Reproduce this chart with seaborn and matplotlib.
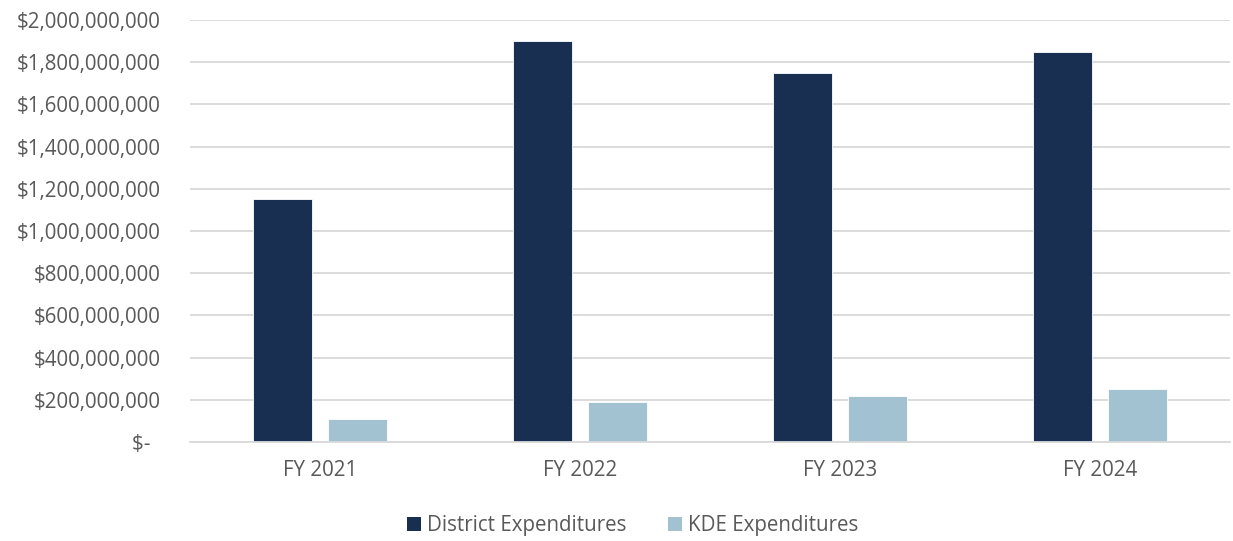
import matplotlib
matplotlib.use("Agg")
import matplotlib.pyplot as plt
import matplotlib.ticker as mticker
from matplotlib.patches import Patch
import seaborn as sns
import pandas as pd

# Expenditure totals by fiscal year
years = ["FY 2021", "FY 2022", "FY 2023", "FY 2024"]
district_exp = [1_150_000_000, 1_900_000_000, 1_750_000_000, 1_850_000_000]
kde_exp = [110_000_000, 190_000_000, 220_000_000, 250_000_000]
series_names = ["District Expenditures", "KDE Expenditures"]

df = pd.DataFrame({
    "year": years * 2,
    "amount": district_exp + kde_exp,
    "series": [series_names[0]] * len(years) + [series_names[1]] * len(years),
})

sns.set_theme(style="white")
plt.rcParams["font.family"] = ["Open Sans", "DejaVu Sans"]

text_color = "#595959"
grid_color = "#d9d9d9"
palette = {series_names[0]: "#182f51", series_names[1]: "#a2c2d2"}
font_size = 14.8

fig = plt.figure(figsize=(12.33, 5.41), dpi=100)
ax = fig.add_axes([0.154, 0.183, 0.8436, 0.78])

sns.barplot(data=df, x="year", y="amount", hue="series", palette=palette,
            width=0.577, gap=0.21, ax=ax, legend=False, saturation=1,
            edgecolor="white", linewidth=0.6)

ax.set_ylim(0, 2_000_000_000)
ax.set_xlim(-0.5, len(years) - 0.5)
ax.yaxis.set_major_locator(mticker.MultipleLocator(200_000_000))


def money(v, _pos):
    # accounting style: zero shown as a dash
    if v == 0:
        return "$-  "
    return f"${v:,.0f}"


ax.yaxis.set_major_formatter(mticker.FuncFormatter(money))
ax.grid(axis="y", color=grid_color, linewidth=1.3)
ax.set_axisbelow(True)
for side in ["left", "right", "top"]:
    ax.spines[side].set_visible(False)
ax.spines["bottom"].set_color(grid_color)
ax.spines["bottom"].set_linewidth(1.3)

ax.tick_params(axis="y", length=0, pad=21, labelsize=font_size, labelcolor=text_color)
ax.tick_params(axis="x", length=0, pad=13, labelsize=font_size, labelcolor=text_color)
ax.set_xlabel("")
ax.set_ylabel("")

handles = [Patch(facecolor=palette[s], edgecolor="none") for s in series_names]
fig.legend(handles, series_names, loc="center", bbox_to_anchor=(0.513, 0.028),
           ncol=2, frameon=False, fontsize=font_size, labelcolor=text_color,
           handlelength=0.7, handleheight=0.7, handletextpad=0.3,
           columnspacing=2.0)

fig.savefig("out.png", dpi=100)
